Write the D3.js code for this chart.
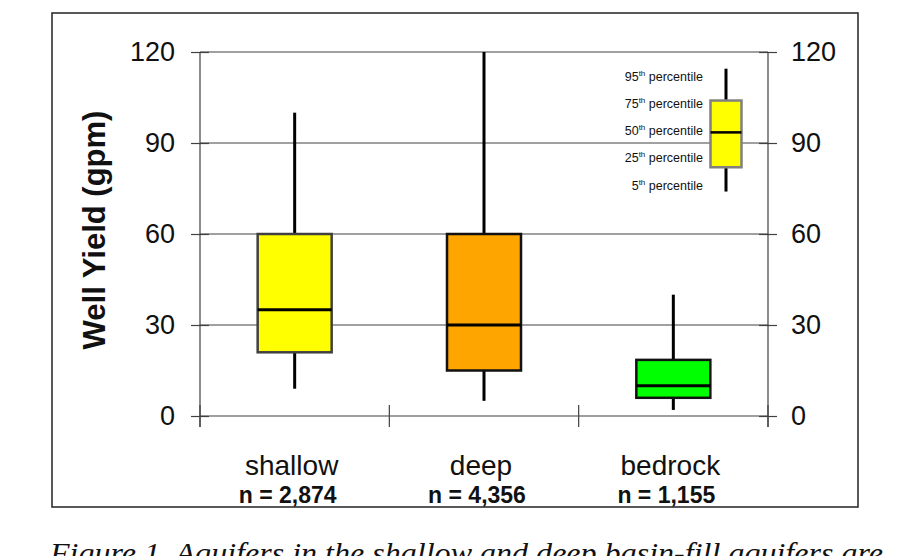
<!DOCTYPE html>
<html lang="en">
<head>
  <meta charset="UTF-8">
  <title>Well Yield by Aquifer</title>
  <script src="https://d3js.org/d3.v7.min.js"></script>
  <style>
    body { margin: 0; background: #fff; }
    svg { display: block; font-family: "Liberation Sans", Arial, sans-serif; }
  </style>
</head>
<body>
  <div id="chart"></div>

  <script>
    // Data (gpm)
    const categories = ["shallow", "deep", "bedrock"];
    const counts = ["n = 2,874", "n = 4,356", "n = 1,155"];
    const p5 = [9, 5, 2];
    const p25 = [21, 15, 6];
    const p50 = [35, 30, 10];
    const p75 = [60, 60, 18.5];
    const p95 = [100, 120, 40];
    const yTicks = [0, 30, 60, 90, 120];

    // Legend sample box
    const legendLabels = ["95", "75", "50", "25", "5"];
    const legendBox = { p5: 74, p25: 82, p50: 93.5, p75: 104, p95: 114.5 };

    const W = 922, H = 556;
    const plot = { left: 200, right: 768, top: 52, bottom: 416 };

    const svg = d3.select("#chart").append("svg")
      .attr("width", W)
      .attr("height", H);

    // Outer frame
    svg.append("rect")
      .attr("x", 52).attr("y", 13)
      .attr("width", 806).attr("height", 494)
      .attr("fill", "none")
      .attr("stroke", "#222")
      .attr("stroke-width", 1.5);

    const x = d3.scaleBand()
      .domain(categories)
      .range([plot.left, plot.right]);

    const y = d3.scaleLinear()
      .domain([0, 120])
      .range([plot.bottom, plot.top]);

    const color = d3.scaleOrdinal(categories, ["#ffff00", "#ffa500", "#00ff00"]);
    const edge = d3.scaleOrdinal(categories, ["#404040", "#111", "#111"]);

    // Gridlines
    svg.append("g")
      .selectAll("line")
      .data(yTicks.filter(d => d > 0))
      .join("line")
      .attr("x1", plot.left).attr("x2", plot.right)
      .attr("y1", d => y(d)).attr("y2", d => y(d))
      .attr("stroke", "#808080")
      .attr("stroke-width", 1.5);

    // Left and right axes with crossing ticks
    const leftAxis = svg.append("g")
      .attr("transform", `translate(${plot.left},0)`)
      .call(d3.axisLeft(y).tickValues(yTicks).tickSize(9).tickPadding(16));
    const rightAxis = svg.append("g")
      .attr("transform", `translate(${plot.right},0)`)
      .call(d3.axisRight(y).tickValues(yTicks).tickSize(9).tickPadding(14));

    [leftAxis, rightAxis].forEach(g => {
      g.select(".domain").remove();
      g.selectAll(".tick line").attr("x1", -9).attr("x2", 9)
        .attr("stroke", "#404040").attr("stroke-width", 1.2);
      g.selectAll(".tick text")
        .attr("font-size", 27)
        .attr("font-family", "Liberation Sans, Arial, sans-serif")
        .attr("fill", "#111");
      g.append("line")
        .attr("y1", y(120)).attr("y2", y(0) + 11)
        .attr("stroke", "#404040").attr("stroke-width", 1.2);
    });

    // Bottom axis with ticks at category boundaries
    const bounds = categories.map(c => x(c)).concat([x.range()[1]]);
    const bottom = svg.append("g");
    bottom.append("line")
      .attr("x1", plot.left).attr("x2", plot.right)
      .attr("y1", y(0)).attr("y2", y(0))
      .attr("stroke", "#404040").attr("stroke-width", 1.2);
    bottom.selectAll(".bt")
      .data(bounds)
      .join("line")
      .attr("class", "bt")
      .attr("x1", d => d).attr("x2", d => d)
      .attr("y1", y(0) - 11).attr("y2", y(0) + 11)
      .attr("stroke", "#404040").attr("stroke-width", 1.2);

    // Category labels
    bottom.selectAll(".cat")
      .data(categories)
      .join("text")
      .attr("class", "cat")
      .attr("x", d => x(d) + x.bandwidth() / 2 - 3)
      .attr("y", 475)
      .attr("text-anchor", "middle")
      .attr("font-size", 28)
      .attr("fill", "#111")
      .text(d => d);

    bottom.selectAll(".cnt")
      .data(categories)
      .join("text")
      .attr("class", "cnt")
      .attr("x", d => x(d) + x.bandwidth() / 2 - 7)
      .attr("y", 503)
      .attr("text-anchor", "middle")
      .attr("font-size", 23)
      .attr("font-weight", "bold")
      .attr("fill", "#111")
      .text((d, i) => counts[i]);

    // Boxes
    const boxW = 74;
    const cx = c => x(c) + x.bandwidth() / 2;
    const boxes = svg.append("g")
      .selectAll("g")
      .data(categories)
      .join("g");

    boxes.append("line")
      .attr("x1", cx).attr("x2", cx)
      .attr("y1", (d, i) => y(p95[i])).attr("y2", (d, i) => y(p75[i]))
      .attr("stroke", "#000").attr("stroke-width", 3);
    boxes.append("line")
      .attr("x1", cx).attr("x2", cx)
      .attr("y1", (d, i) => y(p25[i])).attr("y2", (d, i) => y(p5[i]))
      .attr("stroke", "#000").attr("stroke-width", 3);
    boxes.append("rect")
      .attr("x", d => cx(d) - boxW / 2)
      .attr("width", boxW)
      .attr("y", (d, i) => y(p75[i]))
      .attr("height", (d, i) => y(p25[i]) - y(p75[i]))
      .attr("fill", d => color(d))
      .attr("stroke", d => edge(d))
      .attr("stroke-width", 2.5);
    boxes.append("line")
      .attr("x1", d => cx(d) - boxW / 2).attr("x2", d => cx(d) + boxW / 2)
      .attr("y1", (d, i) => y(p50[i])).attr("y2", (d, i) => y(p50[i]))
      .attr("stroke", "#000").attr("stroke-width", 3);

    // Y axis title
    svg.append("text")
      .attr("transform", "translate(105,230) rotate(-90)")
      .attr("text-anchor", "middle")
      .attr("font-size", 31)
      .attr("font-weight", "bold")
      .attr("fill", "#111")
      .text("Well Yield (gpm)");

    // Legend
    const lx = 726, lw = 31;
    const legend = svg.append("g");
    legend.append("line")
      .attr("x1", lx).attr("x2", lx)
      .attr("y1", y(legendBox.p95)).attr("y2", y(legendBox.p5))
      .attr("stroke", "#000").attr("stroke-width", 3);
    legend.append("rect")
      .attr("x", lx - lw / 2).attr("width", lw)
      .attr("y", y(legendBox.p75))
      .attr("height", y(legendBox.p25) - y(legendBox.p75))
      .attr("fill", "#ffff00")
      .attr("stroke", "#808080")
      .attr("stroke-width", 2.5);
    legend.append("line")
      .attr("x1", lx - lw / 2).attr("x2", lx + lw / 2)
      .attr("y1", y(legendBox.p50)).attr("y2", y(legendBox.p50))
      .attr("stroke", "#000").attr("stroke-width", 2.5);

    const ly = d3.scalePoint().domain(legendLabels).range([80.7, 189.5]);
    const lt = legend.selectAll(".lt")
      .data(legendLabels)
      .join("text")
      .attr("class", "lt")
      .attr("x", 703)
      .attr("y", d => ly(d))
      .attr("text-anchor", "end")
      .attr("font-size", 12.5)
      .attr("fill", "#111");
    lt.append("tspan").text(d => d);
    lt.append("tspan").attr("font-size", 8).attr("dy", -5).text("th");
    lt.append("tspan").attr("dy", 5).text(" percentile");

    // Caption (cut off by the page edge)
    svg.append("text")
      .attr("x", 50)
      .attr("y", 563)
      .attr("font-family", "Liberation Serif, 'Times New Roman', serif")
      .attr("font-style", "italic")
      .attr("font-size", 30)
      .attr("textLength", 833)
      .attr("lengthAdjust", "spacingAndGlyphs")
      .attr("fill", "#111")
      .text("Figure 1. Aquifers in the shallow and deep basin-fill aquifers are");
  </script>
</body>
</html>
